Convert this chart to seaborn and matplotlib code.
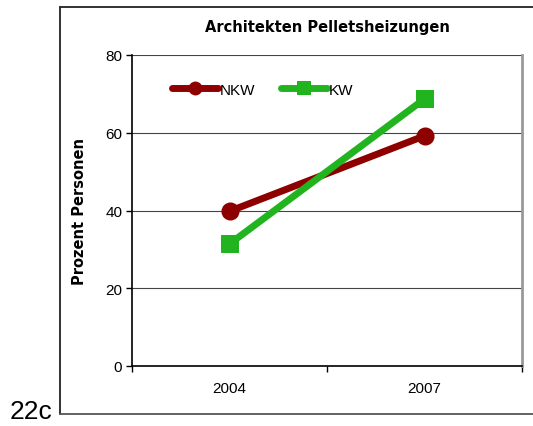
import pandas as pd
import matplotlib.pyplot as plt
import seaborn as sns
from matplotlib.lines import Line2D

# Daten
jahre = ['2004', '2007']
nkw = [39.8, 59.2]
kw = [31.4, 68.7]
serien = ['NKW', 'KW']
farben = {'NKW': '#8E0000', 'KW': '#22B41E'}

dados = pd.DataFrame({
    'pos': list(range(len(jahre))) * 2,
    'wert': nkw + kw,
    'serie': ['NKW'] * len(jahre) + ['KW'] * len(jahre),
})

sns.set_style('white')
plt.rcParams['font.family'] = ['Liberation Sans', 'DejaVu Sans']
plt.rcParams['text.color'] = 'black'
plt.rcParams['xtick.color'] = 'black'
plt.rcParams['ytick.color'] = 'black'
plt.rcParams['axes.labelcolor'] = 'black'

fig = plt.figure(figsize=(5.33, 4.27), dpi=100)
ax = fig.add_axes([132 / 533, 1 - 367 / 427, 390 / 533, 311 / 427])

sns.lineplot(data=dados, x='pos', y='wert', hue='serie', style='serie',
             hue_order=serien, style_order=serien, palette=farben,
             markers={'NKW': 'o', 'KW': 's'}, dashes=False, linewidth=5,
             markersize=13, markeredgewidth=0, legend=False, ax=ax)

ax.set_xlim(-0.5, len(jahre) - 0.5)
ax.set_ylim(0, 80)
ax.set_yticks([0, 20, 40, 60, 80])
ax.set_xticks([i - 0.5 for i in range(len(jahre) + 1)])
ax.set_xticklabels([])
ax.set_xticks(range(len(jahre)), minor=True)
ax.set_xticklabels(jahre, minor=True)
ax.tick_params(axis='x', which='minor', bottom=False, length=0, pad=11, labelsize=11)
ax.tick_params(axis='x', which='major', bottom=True, length=4, width=1, direction='out')
ax.tick_params(axis='y', left=True, length=4, width=1, direction='out', labelsize=11, pad=3)
ax.grid(axis='y', color='#444444', linewidth=0.8, linestyle='-')
ax.grid(axis='x', visible=False)

for s in ['left', 'bottom']:
    ax.spines[s].set_color('black')
    ax.spines[s].set_linewidth(1.2)
ax.spines['top'].set_visible(False)
ax.spines['right'].set_color('#999999')
ax.spines['right'].set_linewidth(2)

ax.set_xlabel('')
ax.set_ylabel('Prozent Personen', fontsize=10.5, fontweight='bold',
              family='DejaVu Sans', labelpad=13)
ax.set_title('Architekten Pelletsheizungen', fontsize=10.5, fontweight='bold',
             family='DejaVu Sans', pad=17)

handles = [Line2D([], [], color=farben[s], linewidth=5,
                  marker='o' if s == 'NKW' else 's', markersize=10, markeredgewidth=0)
           for s in serien]
ax.legend(handles, serien, loc='upper left', bbox_to_anchor=(0.068, 0.955), ncol=2,
          frameon=False, fontsize=11, handlelength=3.0, handletextpad=0.12,
          columnspacing=1.7)

# Rahmen
fig.add_artist(Line2D([60 / 533, 60 / 533], [1 - 415 / 427, 1 - 8 / 427],
                      color='#222222', linewidth=1.3))
fig.add_artist(Line2D([60 / 533, 1.0], [1 - 8 / 427, 1 - 8 / 427],
                      color='#222222', linewidth=1.3))
fig.add_artist(Line2D([60 / 533, 1.0], [1 - 415 / 427, 1 - 415 / 427],
                      color='#555555', linewidth=1.3))
fig.text(10 / 533, 1 - 424 / 427, '22c', fontsize=19, ha='left', va='bottom')

fig.savefig('out.png', dpi=100)
